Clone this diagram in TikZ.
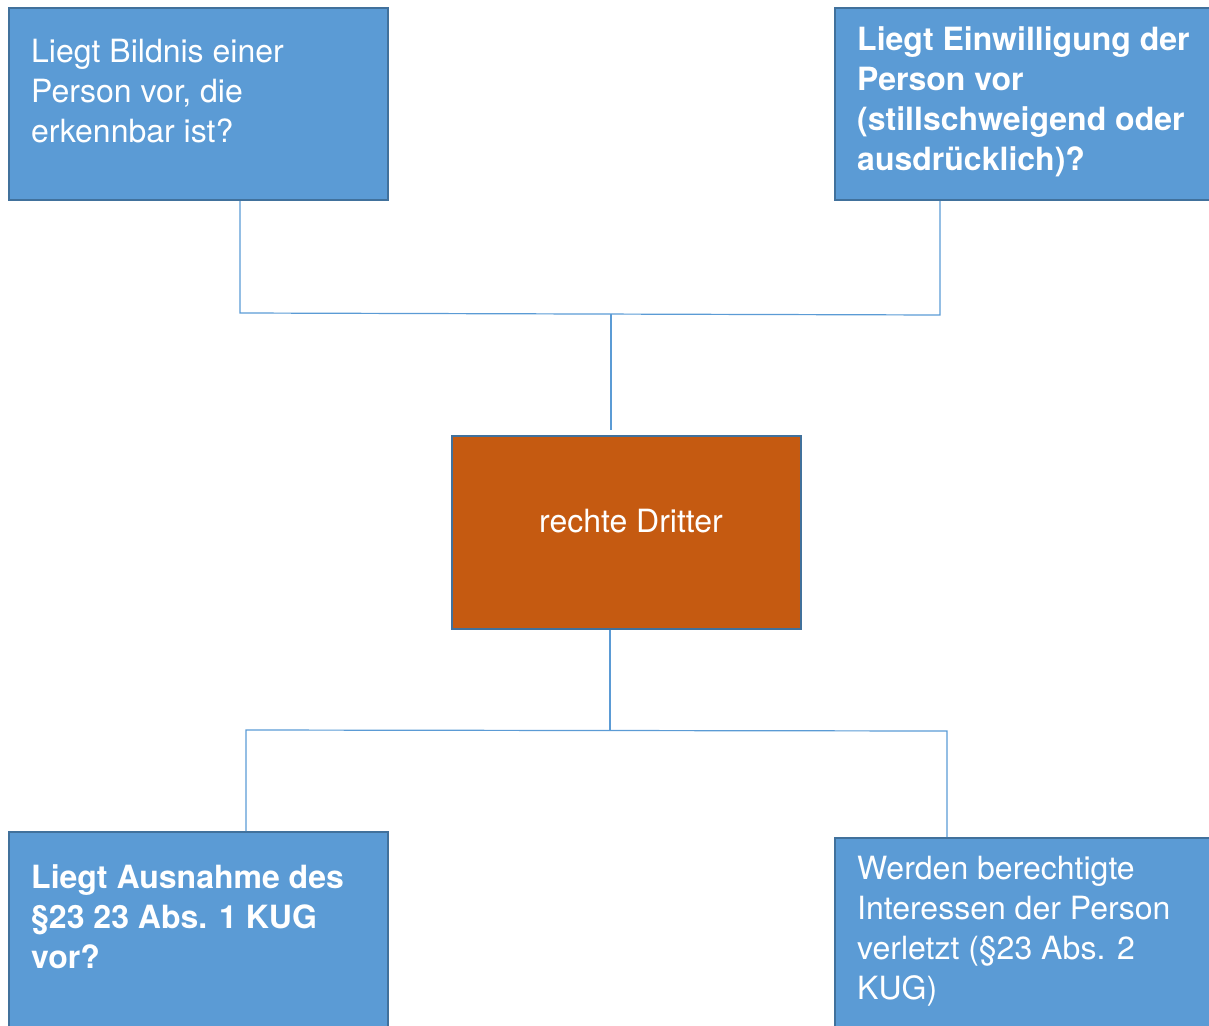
\documentclass[tikz,border=0pt]{standalone}
\usepackage{fontspec}
\setmainfont{TeX Gyre Heros}
\definecolor{boxblue}{HTML}{5B9BD5}
\definecolor{boxedge}{HTML}{41719C}
\definecolor{boxorange}{HTML}{C55A11}
\definecolor{linkblue}{HTML}{5B9BD5}
\tikzset{
  qbox/.style={draw=boxedge, line width=2pt, fill=boxblue, inner sep=0pt},
  cbox/.style={draw=boxedge, line width=2pt, fill=boxorange, inner sep=0pt},
  qtext/.style={anchor=north west, inner sep=0pt, align=left, text=white, font=\fontsize{32}{40}\selectfont},
  qbold/.style={qtext, font=\fontsize{32}{40}\selectfont\bfseries},
  link/.style={draw=linkblue, line width=1.2pt}
}
\begin{document}
\begin{tikzpicture}[x=1pt, y=-1pt]
\useasboundingbox (0,0) rectangle (1209,1025);
\clip (0,0) rectangle (1209,1025);
% boxes
\node[qbox, minimum width=379pt, minimum height=192pt] (tl) at (198.5,104) {};
\node[qbox, minimum width=380pt, minimum height=192pt] (tr) at (1025,104) {};
\node[cbox, minimum width=349pt, minimum height=193pt] (c) at (626.5,532.5) {};
\node[qbox, minimum width=379pt, minimum height=200pt] (bl) at (198.5,932) {};
\node[qbox, minimum width=380pt, minimum height=200pt] (br) at (1025,938) {};
% texts
\node[qtext] (tlt) at (31,39) {Liegt Bildnis einer\\Person vor, die\\erkennbar ist?};
\node[qbold] (trt) at (857,26) {Liegt Einwilligung der\\Person vor\\(stillschweigend oder\\ausdrücklich)?};
\node[anchor=base, inner sep=0pt, text=white, font=\fontsize{32}{40}\selectfont] (ct) at (631,532) {rechte Dritter};
\node[qbold] (blt) at (31,864) {Liegt Ausnahme des\\§23 23 Abs. 1 KUG\\vor?};
\node[qtext] (brt) at (857,856) {Werden berechtigte\\Interessen der Person\\verletzt (§23 Abs. 2\\KUG)};
% connectors
\coordinate (j1) at (240,313);
\coordinate (j2) at (940,315);
\coordinate (j3) at (611,314);
\coordinate (j4) at (246,730);
\coordinate (j5) at (947,731);
\coordinate (j6) at (610,730);
\draw[link] (tl.south -| j1) -- (j1) -- (j2) -- (tr.south -| j2);
\draw[link] (j3) -- (611,430);
\draw[link] (c.south -| j6) -- (j6);
\draw[link] (bl.north -| j4) -- (j4) -- (j5) -- (br.north -| j5);
\end{tikzpicture}
\end{document}
